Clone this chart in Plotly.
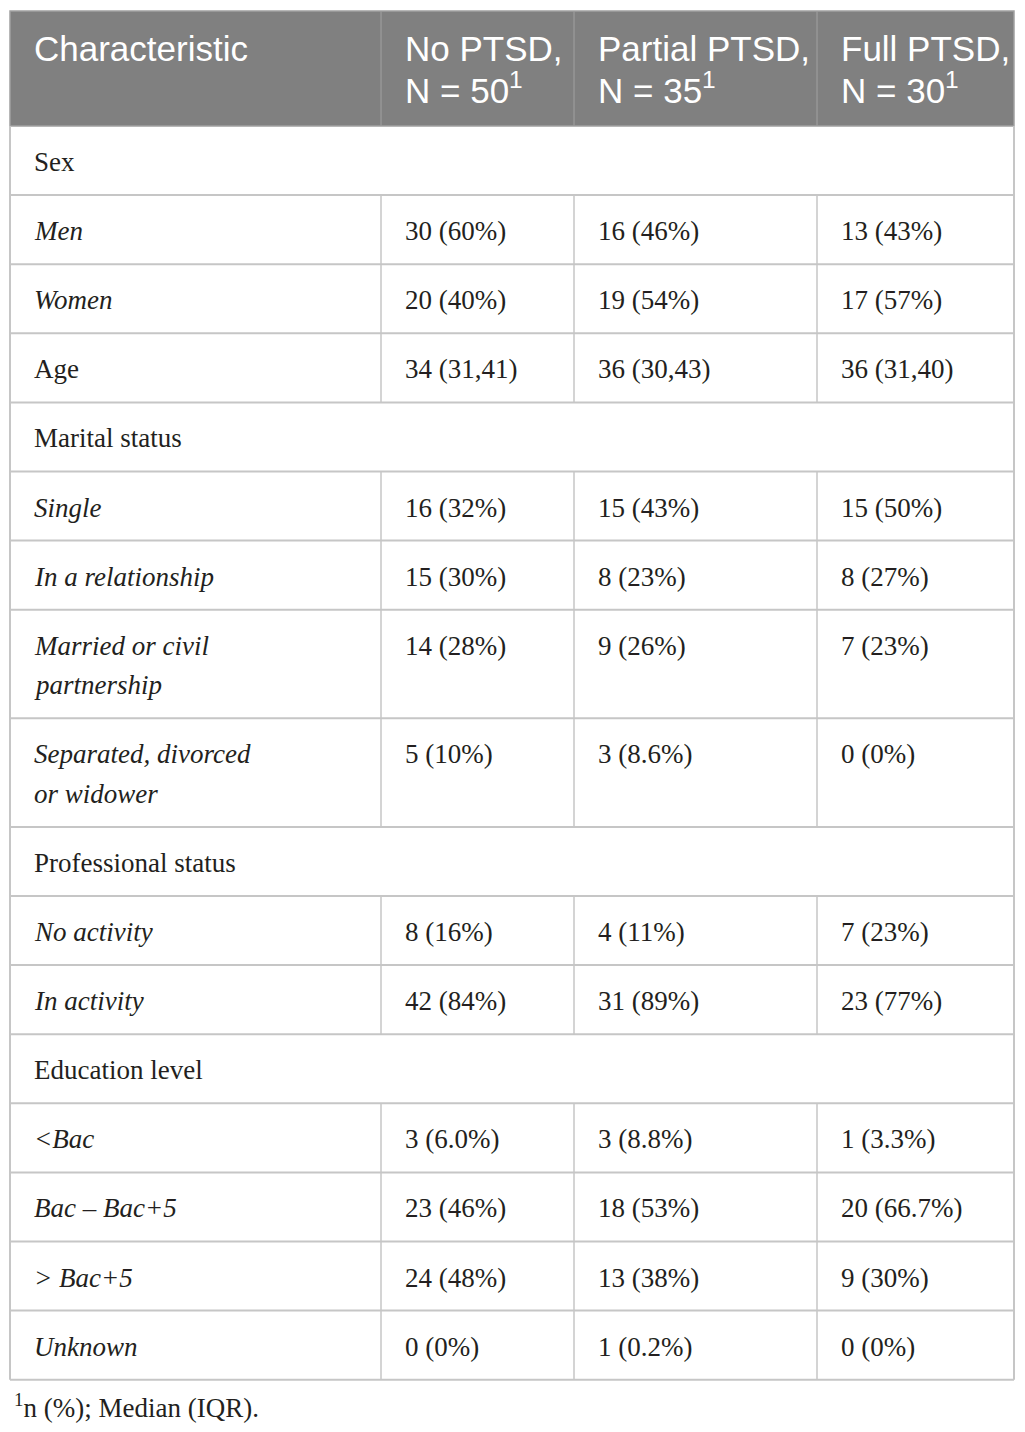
import plotly.graph_objects as go

# table content
header_labels = ["Characteristic", "No PTSD,\nN = 50<sup>1</sup>",
                 "Partial PTSD,\nN = 35<sup>1</sup>", "Full PTSD,\nN = 30<sup>1</sup>"]

row_labels = ["Sex", "Men", "Women", "Age", "Marital status", "Single",
              "In a relationship", "Married or civil\npartnership",
              "Separated, divorced\nor widower", "Professional status",
              "No activity", "In activity", "Education level", "&lt;Bac",
              "Bac – Bac+5", "&gt; Bac+5", "Unknown"]
group_rows = ["Sex", "Marital status", "Professional status", "Education level"]
plain_rows = group_rows + ["Age"]

no_ptsd = ["", "30 (60%)", "20 (40%)", "34 (31,41)", "", "16 (32%)", "15 (30%)",
           "14 (28%)", "5 (10%)", "", "8 (16%)", "42 (84%)", "", "3 (6.0%)",
           "23 (46%)", "24 (48%)", "0 (0%)"]
partial_ptsd = ["", "16 (46%)", "19 (54%)", "36 (30,43)", "", "15 (43%)", "8 (23%)",
                "9 (26%)", "3 (8.6%)", "", "4 (11%)", "31 (89%)", "", "3 (8.8%)",
                "18 (53%)", "13 (38%)", "1 (0.2%)"]
full_ptsd = ["", "13 (43%)", "17 (57%)", "36 (31,40)", "", "15 (50%)", "8 (27%)",
             "7 (23%)", "0 (0%)", "", "7 (23%)", "23 (77%)", "", "1 (3.3%)",
             "20 (66.7%)", "9 (30%)", "0 (0%)"]

footnote = "<sup>1</sup>n (%); Median (IQR)."

# layout of the grid (page coordinates; the page body adds an 8px offset)
W, H = 1025, 1432
off = 8
col_edges = [10, 381, 574, 817, 1014]
pad_x = 22
header_top, header_h = 11, 115
row_h, line_gap = 69.1, 39.5
first_line = 36

header_font = dict(family="Liberation Sans, Arial, sans-serif", size=35, color="white")
body_font = dict(family="Liberation Serif, Times New Roman, serif", size=27, color="#231f20")
grid_color = "#c6c6c6"

fig = go.Figure()
shapes = []
annotations = []


def add_text(x, y_top, text, font):
    for k, line in enumerate(text.split("\n")):
        annotations.append(dict(x=x, y=y_top + first_line + k * line_gap, text=line,
                                xref="x", yref="y", xanchor="left", yanchor="middle",
                                showarrow=False, font=font))


# header band
header_bottom = header_top + header_h
shapes.append(dict(type="rect", x0=col_edges[0], x1=col_edges[-1], y0=header_top,
                   y1=header_bottom, fillcolor="#808080", line=dict(color="#a0a0a0", width=1.5),
                   layer="below"))
for xe in col_edges[1:-1]:
    shapes.append(dict(type="line", x0=xe, x1=xe, y0=header_top, y1=header_bottom,
                       line=dict(color="#9c9c9c", width=1.2)))
for i, lab in enumerate(header_labels):
    add_text(col_edges[i] + pad_x, header_top + 1, lab, header_font)

# body rows
columns = [row_labels, no_ptsd, partial_ptsd, full_ptsd]
y = header_bottom
for r, lab in enumerate(row_labels):
    n_lines = max(len(c[r].split("\n")) for c in columns)
    h = row_h + (n_lines - 1) * line_gap
    shapes.append(dict(type="line", x0=col_edges[0], x1=col_edges[-1], y0=y + h, y1=y + h,
                       line=dict(color=grid_color, width=2)))
    if lab not in group_rows:
        for xe in col_edges[1:-1]:
            shapes.append(dict(type="line", x0=xe, x1=xe, y0=y, y1=y + h,
                               line=dict(color=grid_color, width=1.5)))
    text = lab if lab in plain_rows else "\n".join(f"<i>{p}</i>" for p in lab.split("\n"))
    add_text(col_edges[0] + pad_x, y, text, body_font)
    for c in range(1, 4):
        if columns[c][r]:
            add_text(col_edges[c] + pad_x, y, columns[c][r], body_font)
    y += h

# outer border of body
for xe in (col_edges[0], col_edges[-1]):
    shapes.append(dict(type="line", x0=xe, x1=xe, y0=header_bottom, y1=y,
                       line=dict(color=grid_color, width=2)))

annotations.append(dict(x=col_edges[0] + 2, y=y + 26, text=footnote, xref="x", yref="y",
                        xanchor="left", yanchor="middle", showarrow=False, font=body_font))

fig.update_layout(
    width=W - 2 * off, height=H - 2 * off,
    margin=dict(l=0, r=0, t=0, b=0),
    plot_bgcolor="white", paper_bgcolor="white",
    xaxis=dict(range=[off, W - off], visible=False, fixedrange=True),
    yaxis=dict(range=[H - off, off], visible=False, fixedrange=True),
    shapes=shapes, annotations=annotations,
    showlegend=False,
)

fig.write_html("out.html")
